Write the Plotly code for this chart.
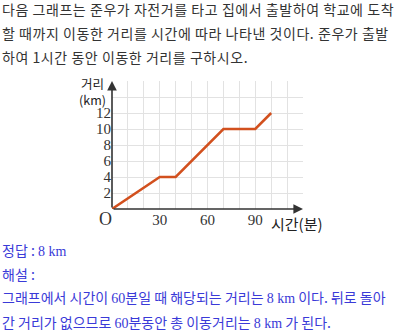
import plotly.graph_objects as go

# Data
time_min = [0, 30, 40, 70, 90, 100]
distance_km = [0, 4, 4, 10, 10, 12]

x_grid = [10, 20, 30, 40, 50, 60, 70, 80, 90, 100, 110, 120]
x_labels = ["", "", "30", "", "", "60", "", "", "90", "", "", ""]
y_grid = [2, 4, 6, 8, 10, 12, 14, 16]
y_labels = ["2", "4", "6", "8", "10", "12", "", ""]

question_lines = [
    "다음 그래프는 준우가 자전거를 타고 집에서 출발하여 학교에 도착",
    "할 때까지 이동한 거리를 시간에 따라 나타낸 것이다. 준우가 출발",
    "하여 1시간 동안 이동한 거리를 구하시오.",
]
SERIF = "Liberation Serif"
KR = "Noto Sans CJK KR"

def num(s):
    return f"<span style='font-family:{SERIF}'>{s}</span>"

answer_lines = [
    "정답 : " + num("8 km"),
    "해설 :",
    "그래프에서 시간이 " + num("60") + "분일 때 해당되는 거리는 " + num("8 km") + " 이다. 뒤로 돌아",
    "간 거리가 없으므로 " + num("60") + "분동안 총 이동거리는 " + num("8 km") + " 가 된다.",
]

W, H = 400, 334
ML, MR, MT, MB = 112, 97, 81, 125
PW, PH = W - ML - MR, H - MT - MB

def px(xp):
    return (xp - ML) / PW

def py(yp):
    return (H - MB - yp) / PH

fig = go.Figure()
fig.add_trace(go.Scatter(
    x=time_min, y=distance_km, mode="lines",
    line=dict(color="#d2501e", width=2.5),
    hoverinfo="skip", showlegend=False,
))

fig.update_layout(
    width=W, height=H,
    margin=dict(l=ML, r=MR, t=MT, b=MB),
    paper_bgcolor="white", plot_bgcolor="white",
    xaxis=dict(range=[0, 120], tickvals=x_grid, ticktext=x_labels,
               showgrid=True, gridcolor="#e2e2e2", gridwidth=1,
               zeroline=False, showline=False, ticks="",
               tickfont=dict(family=SERIF, size=15, color="#333"),
               fixedrange=True),
    yaxis=dict(range=[0, 16], tickvals=y_grid, ticktext=y_labels,
               showgrid=True, gridcolor="#e2e2e2", gridwidth=1,
               zeroline=False, showline=False, ticks="",
               tickfont=dict(family=SERIF, size=15, color="#333"),
               fixedrange=True),
)

anns = []
# axis arrows
anns.append(dict(x=120, y=0, ax=0, ay=0, xref="x", yref="y", axref="x", ayref="y",
                 text="", showarrow=True, arrowhead=2, arrowsize=1.2, arrowwidth=1.6,
                 arrowcolor="#333"))
anns.append(dict(x=0, y=16, ax=0, ay=0, xref="x", yref="y", axref="x", ayref="y",
                 text="", showarrow=True, arrowhead=2, arrowsize=1.2, arrowwidth=1.6,
                 arrowcolor="#333"))
# origin
anns.append(dict(x=0, y=0, xref="x", yref="y", text="O", showarrow=False,
                 xanchor="center", yanchor="middle",
                 xshift=-7, yshift=-10, font=dict(family=SERIF, size=18, color="#333")))
# axis titles
for xx, yy, t, s in [(92, 91, "거리<br>(km)", 12.5), (297, 223, "시간(분)", 15)]:
    anns.append(dict(x=px(xx), y=py(yy), xref="paper", yref="paper", text=t,
                     xanchor="center", yanchor="middle",
                     showarrow=False, font=dict(family=KR, size=s, color="#222")))

# question text
for i, line in enumerate(question_lines):
    anns.append(dict(x=px(0), y=py(9 + 24 * i), xref="paper", yref="paper",
                     xanchor="left", yanchor="middle",
                     text=f"<span style='letter-spacing:0.55px'>{line}</span>",
                     showarrow=False,
                     font=dict(family=KR, size=14, color="#333")))
# answer text
ans_y = [250, 274, 297, 322]
for yy, line in zip(ans_y, answer_lines):
    anns.append(dict(x=px(0), y=py(yy), xref="paper", yref="paper",
                     xanchor="left", yanchor="middle", text=line, showarrow=False,
                     font=dict(family=KR, size=14, color="#3a3ad8")))

fig.update_layout(annotations=anns)
fig.write_html("out.html", config={"displayModeBar": False})
